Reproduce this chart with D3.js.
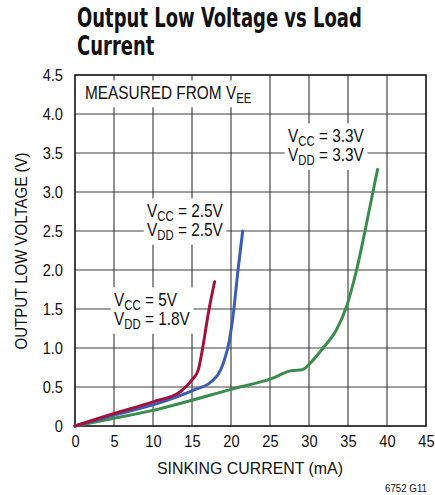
<!DOCTYPE html>
<html>
<head>
<meta charset="utf-8">
<script src="https://cdn.jsdelivr.net/npm/d3@7"></script>
<style>
  body { margin: 0; background: #fff; }
  svg { font-family: "Liberation Sans", Arial, sans-serif; }
</style>
</head>
<body>
<div id="chart"></div>
<script>
var width = 435, height = 495;
var margin = {left: 75, right: 9, top: 75, bottom: 69};

// sinking current (mA) vs output low voltage (V)
var redI = [0, 5, 10, 13.5, 15, 15.8, 16.4, 17.1, 17.9];
var redV = [0, 0.16, 0.31, 0.44, 0.59, 0.72, 1.02, 1.45, 1.85];

var blueI = [0, 5, 10, 15.2, 17.5, 19.0, 19.8, 20.3, 20.9, 21.5];
var blueV = [0, 0.14, 0.27, 0.46, 0.57, 0.80, 1.10, 1.44, 2.0, 2.5];

var greenI = [0, 5, 10, 15, 20, 25, 27.8, 29.1, 30.1, 31.8, 33.5, 34.8, 36.1, 37.2, 38.5, 38.8];
var greenV = [0, 0.1, 0.2, 0.33, 0.47, 0.6, 0.71, 0.72, 0.80, 1.0, 1.23, 1.53, 2.0, 2.51, 3.15, 3.29];

var xTicks = [0, 5, 10, 15, 20, 25, 30, 35, 40, 45];
var yTicks = [0, 0.5, 1.0, 1.5, 2.0, 2.5, 3.0, 3.5, 4.0, 4.5];

var svg = d3.select("#chart").append("svg")
  .attr("width", width)
  .attr("height", height);

var x = d3.scaleLinear().domain([0, 45]).range([margin.left, width - margin.right]);
var y = d3.scaleLinear().domain([0, 4.5]).range([height - margin.bottom, margin.top]);

// squeeze a plain text to a width (condensed look)
function fit(sel, w) {
  sel.attr("textLength", w).attr("lengthAdjust", "spacingAndGlyphs");
}
function narrow(sel, k) {
  sel.each(function() {
    var t = d3.select(this);
    fit(t, this.getComputedTextLength() * k);
  });
}

// title, squeezed with a transform so it stays inside
var titleLines = ["Output Low Voltage vs Load", "Current"];
var tg = svg.append("g");
var tt = tg.append("text")
  .style("font-family", "'DejaVu Sans Condensed', 'DejaVu Sans', sans-serif")
  .style("font-weight", "bold")
  .style("font-size", "27px")
  .attr("fill", "#111");
titleLines.forEach(function(s, i) {
  tt.append("tspan").attr("x", 0).attr("y", i * 28).text(s);
});
var tw = tt.node().getBBox().width;
tg.attr("transform", "translate(77,27) scale(" + (285 / tw) + ",1)");

// grid
svg.append("g").selectAll("line")
  .data(yTicks.slice(1, -1))
  .enter().append("line")
  .attr("x1", x(0)).attr("x2", x(45))
  .attr("y1", function(d) { return y(d); })
  .attr("y2", function(d) { return y(d); })
  .attr("stroke", "#808080")
  .attr("stroke-width", 1.6);

svg.append("g").selectAll("line")
  .data(xTicks.slice(1, -1))
  .enter().append("line")
  .attr("y1", y(0)).attr("y2", y(4.5))
  .attr("x1", function(d) { return x(d); })
  .attr("x2", function(d) { return x(d); })
  .attr("stroke", "#222")
  .attr("stroke-width", 1);

// axes
var xAxis = svg.append("g")
  .attr("transform", "translate(0," + y(0) + ")")
  .call(d3.axisBottom(x).tickValues(xTicks).tickSize(0).tickPadding(9));
var yAxis = svg.append("g")
  .attr("transform", "translate(" + x(0) + ",0)")
  .call(d3.axisLeft(y).tickValues(yTicks).tickSize(0).tickPadding(12)
    .tickFormat(function(d) { return d == 0 ? "0" : d3.format(".1f")(d); }));
[xAxis, yAxis].forEach(function(a) {
  a.select(".domain").remove();
  a.selectAll("text")
    .style("font-family", "'Liberation Sans', Arial, sans-serif")
    .style("font-size", "17px")
    .attr("fill", "#111")
    .call(narrow, 0.86);
});

svg.append("text")
  .attr("x", 250)
  .attr("y", 474)
  .attr("text-anchor", "middle")
  .style("font-size", "17px")
  .attr("fill", "#111")
  .text("SINKING CURRENT (mA)")
  .call(fit, 186);

svg.append("text")
  .attr("transform", "translate(26.5,251) rotate(-90)")
  .attr("text-anchor", "middle")
  .style("font-size", "17px")
  .attr("fill", "#111")
  .text("OUTPUT LOW VOLTAGE (V)")
  .call(fit, 197);

svg.append("text")
  .attr("x", 427)
  .attr("y", 492)
  .attr("text-anchor", "end")
  .style("font-size", "11px")
  .attr("fill", "#111")
  .text("6752 G11")
  .call(fit, 42);

// curve labels with white boxes
function label(px, py, lines) {
  var g = svg.append("g").attr("transform", "translate(" + px + "," + py + ") scale(0.81,1)");
  var bg = g.append("rect").attr("fill", "#fff");
  var t = g.append("text").style("font-size", "19px").attr("fill", "#111");
  lines.forEach(function(l, i) {
    var row = t.append("tspan").attr("x", 0).attr("y", i * 19.5);
    row.append("tspan").text(l[0]);
    if (l[1]) {
      row.append("tspan").attr("dy", 4).style("font-size", "14px").text(l[1]);
      row.append("tspan").attr("dy", -4).text(l[2]);
    }
  });
  var b = t.node().getBBox();
  bg.attr("x", b.x - 4).attr("y", b.y - 1).attr("width", b.width + 8).attr("height", b.height + 2);
}

label(85, 99, [["MEASURED FROM V", "EE", ""]]);
label(288, 142, [["V", "CC", " = 3.3V"], ["V", "DD", " = 3.3V"]]);
label(147, 217, [["V", "CC", " = 2.5V"], ["V", "DD", " = 2.5V"]]);
label(114, 306, [["V", "CC", " = 5V"], ["V", "DD", " = 1.8V"]]);

// frame
svg.append("rect")
  .attr("x", x(0)).attr("y", y(4.5))
  .attr("width", x(45) - x(0)).attr("height", y(0) - y(4.5))
  .attr("fill", "none")
  .attr("stroke", "#111")
  .attr("stroke-width", 1.6);

// curves
var line = d3.line()
  .x(function(d) { return x(d[0]); })
  .y(function(d) { return y(d[1]); })
  .curve(d3.curveMonotoneX);

var series = [
  {i: greenI, v: greenV, color: "#3a8d4c"},
  {i: blueI, v: blueV, color: "#3b5db4"},
  {i: redI, v: redV, color: "#a3123f"}
];

svg.selectAll(".curve")
  .data(series)
  .enter().append("path")
  .attr("class", "curve")
  .attr("fill", "none")
  .attr("stroke", function(d) { return d.color; })
  .attr("stroke-width", 3)
  .attr("stroke-linecap", "round")
  .attr("d", function(d) { return line(d.i.map(function(v, k) { return [v, d.v[k]]; })); });
</script>
</body>
</html>
